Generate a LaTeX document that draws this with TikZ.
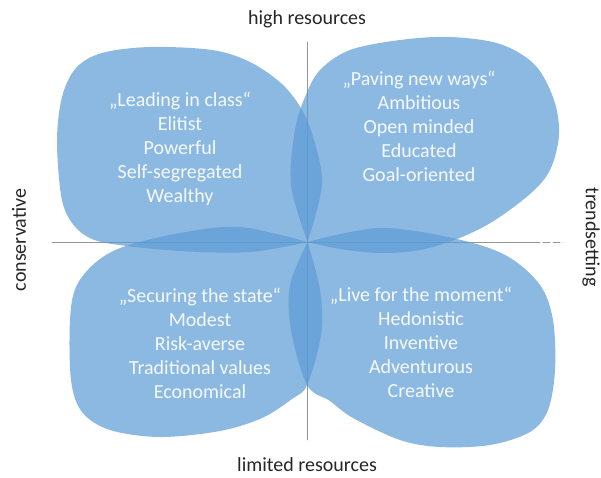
\documentclass[tikz,border=0pt]{standalone}
\usepackage{fontspec}
\setmainfont{Carlito}
\definecolor{blob}{RGB}{91,155,213}
\definecolor{axisgray}{RGB}{150,150,150}
\begin{document}
\begin{tikzpicture}[x=1pt,y=-1pt,line join=round,line cap=round,
	font=\fontsize{20}{24}\selectfont,
	petal/.style={fill=blob,fill opacity=.7},
	trait/.style={align=center,text=white,text opacity=.92,inner sep=0pt},
	pole/.style={text=black!85,inner sep=0pt}]
	\useasboundingbox (0,0) rectangle (601,477);
	\def\cx{307.5} \def\cy{242}
	\coordinate (N) at (\cx,42); \coordinate (S) at (\cx,440);
	\coordinate (W) at (52,\cy); \coordinate (E) at (533,\cy); \coordinate (E2) at (563,\cy);
	\draw[axisgray,line width=.9pt] (N)--(S);
	\draw[axisgray,line width=.9pt] (W)--(E);
	\draw[axisgray,line width=.9pt,dash pattern=on 7pt off 3pt] (E)--(E2);
%	four quadrants
	\fill[petal] plot[smooth,tension=.55] coordinates{(\cx,\cy) (322,185) (314,140) (302,110) (282,84) (250,62) (212,50) (150,47) (102,53) (76,68) (62,97) (57,140) (61,195) (70,220) (86,236) (112,244) (180,251) (250,252) (\cx,\cy)} -- cycle;
	\fill[petal] plot[smooth,tension=.55] coordinates{(\cx,\cy) (291,185) (295,130) (305,97) (320,70) (350,50) (400,40) (450,37) (500,44) (535,65) (554,100) (559,135) (550,170) (530,194) (492,222) (457,239) (420,250) (380,253) (340,249) (\cx,\cy)} -- cycle;
	\fill[petal] plot[smooth,tension=.55] coordinates{(\cx,\cy) (240,227) (180,233) (123,247) (95,263) (76,287) (70,320) (71,380) (82,412) (110,430) (160,437) (220,431) (262,418) (292,399) (307,385) (321,335) (320,290) (\cx,\cy)} -- cycle;
	\fill[petal] plot[smooth,tension=.55] coordinates{(\cx,\cy) (380,228) (457,239) (507,256) (540,285) (553,320) (555,370) (548,410) (530,432) (490,445) (440,447) (400,440) (353,418) (330,401) (307,385) (291,330) (290,285) (\cx,\cy)} -- cycle;
	\node[trait] (tl) at (180,149) {„Leading in class“\\Elitist\\Powerful\\Self-segregated\\Wealthy};
	\node[trait] (tr) at (419,126) {„Paving new ways“\\Ambitious\\Open minded\\Educated\\Goal-oriented};
	\node[trait] (bl) at (200,343) {„Securing the state“\\Modest\\Risk-averse\\Traditional values\\Economical};
	\node[trait] (br) at (421,342) {„Live for the moment“\\Hedonistic\\Inventive\\Adventurous\\Creative};
	\node[pole] (high) at (307,19) {high resources};
	\node[pole] (low) at (307,465) {limited resources};
	\node[pole,rotate=90] (cons) at (19,240) {conservative};
	\node[pole,rotate=-90] (trend) at (591,237) {trendsetting};
\end{tikzpicture}
\end{document}
